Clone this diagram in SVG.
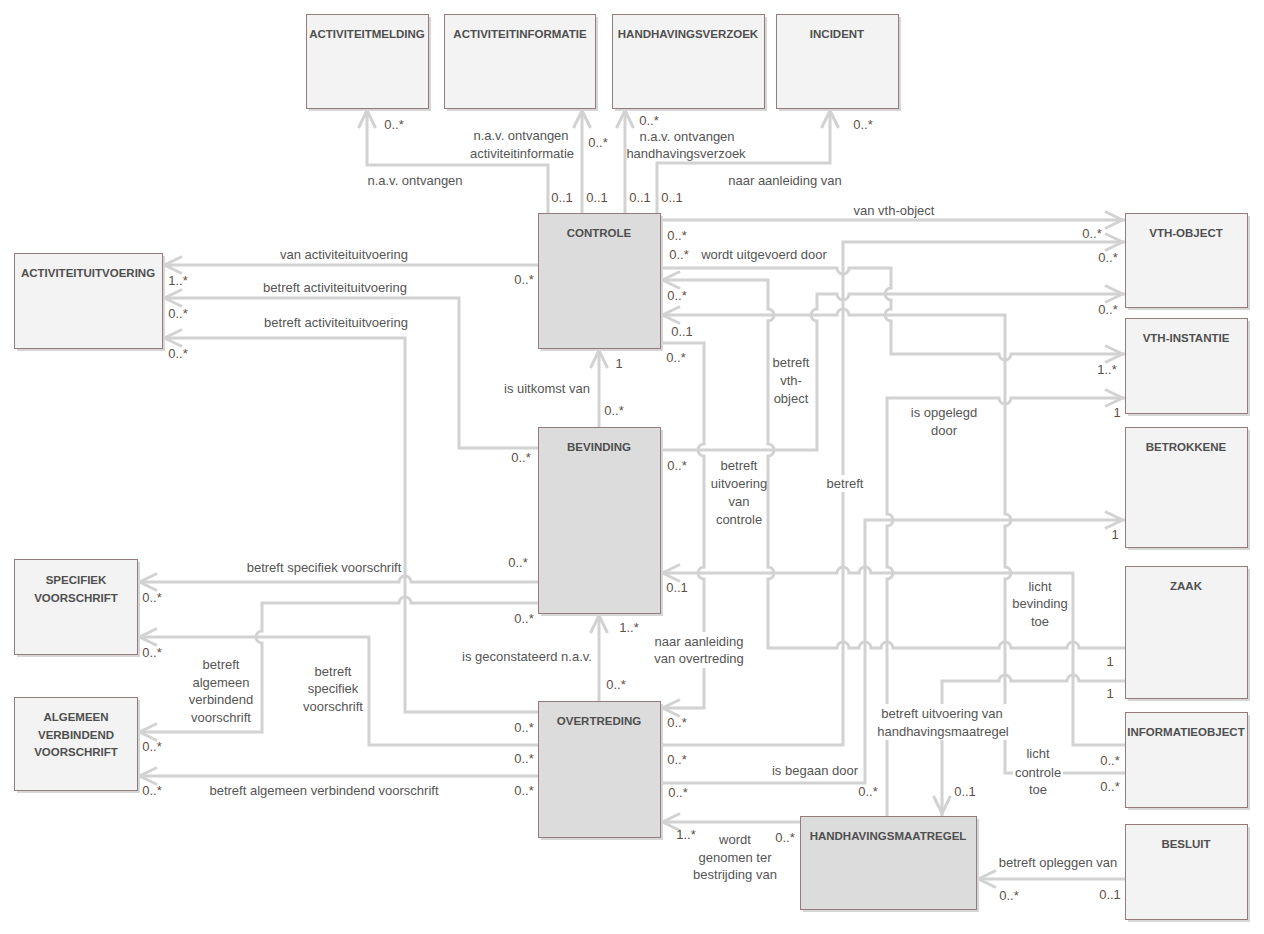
<svg xmlns="http://www.w3.org/2000/svg" width="1264" height="934" viewBox="0 0 1264 934">
<style>
.box{fill:#f3f3f3;stroke:#957b7b;stroke-width:1}
.main .box{fill:#dcdcdc}
.sh{fill:#d6d6d6}
.title{font-family:"Liberation Sans",Arial,sans-serif;font-weight:bold;font-size:11.5px;fill:#4f4f4f;text-anchor:middle}
.c{fill:none;stroke:#d2d2d2;stroke-width:3;stroke-linejoin:miter}
.a{marker-end:url(#arrow)}
.l{font-family:"Liberation Sans",Arial,sans-serif;font-size:13px;fill:#555555;text-anchor:middle}
.m{font-family:"Liberation Sans",Arial,sans-serif;font-size:13px;fill:#5e5046;text-anchor:middle}
.bg{fill:#ffffff}
</style>
<defs>
<marker id="arrow" markerUnits="userSpaceOnUse" markerWidth="26" markerHeight="26" viewBox="-24 -13 26 26" refX="0" refY="0" orient="auto">
<path d="M-20,-8.5 L-2.5,0 L-20,8.5" fill="none" stroke="#d2d2d2" stroke-width="3" stroke-linejoin="miter"/>
</marker>
</defs>
<rect width="1264" height="934" fill="#ffffff"/>
<g id="connectors">
<path class="c a" d="M548,213 V165 H367 V108"/>
<path class="c a" d="M582,213 V108"/>
<path class="c a" d="M625,213 V108"/>
<path class="c a" d="M657,213 V163 H830 V108"/>
<path class="c a" d="M660,220 H1125"/>
<path class="c a" d="M660,745 H843 V242 H1125"/>
<path class="c a" d="M660,268 H837 A6,6 0 0 0 849,268 H891 V288 A6,6 0 0 0 891,300 V309 A6,6 0 0 0 891,321 V354 H999 A6,6 0 0 0 1011,354 H1125"/>
<path class="c a" d="M1125,648 H1079 A6,6 0 0 0 1067,648 H1011 A6,6 0 0 0 999,648 H893 A6,6 0 0 0 881,648 H871 A6,6 0 0 0 859,648 H849 A6,6 0 0 0 837,648 H768 V579 A6,6 0 0 0 768,567 V456 A6,6 0 0 0 768,444 V321 A6,6 0 0 0 768,309 V280 H660"/>
<path class="c a" d="M660,450 H817 V321 A6,6 0 0 1 817,309 V294 H837 A6,6 0 0 0 849,294 H1125"/>
<path class="c a" d="M1125,773 H1005 V579 A6,6 0 0 0 1005,567 V526 A6,6 0 0 0 1005,514 V315 H849 A6,6 0 0 0 837,315 H660"/>
<path class="c a" d="M660,343 H704 V444 A6,6 0 0 0 704,456 V567 A6,6 0 0 0 704,579 V708 H660"/>
<path class="c a" d="M887,816 V579 A6,6 0 0 0 887,567 V526 A6,6 0 0 0 887,514 V398 H999 A6,6 0 0 0 1011,398 H1125"/>
<path class="c a" d="M660,783 H865 V520 H1125"/>
<path class="c a" d="M1125,745 H1073 V573 H871 A6,6 0 0 0 859,573 H849 A6,6 0 0 0 837,573 H660"/>
<path class="c a" d="M1125,681 H1079 A6,6 0 0 0 1067,681 H1011 A6,6 0 0 0 999,681 H942 V816"/>
<path class="c a" d="M800,822 H660"/>
<path class="c a" d="M1125,879 H976"/>
<path class="c a" d="M599,427 V348"/>
<path class="c a" d="M599,701 V613"/>
<path class="c a" d="M538,265 H162"/>
<path class="c a" d="M538,448 H459 V298 H162"/>
<path class="c a" d="M538,712 H405 V338 H162"/>
<path class="c a" d="M538,582 H411 A6,6 0 0 0 399,582 H137"/>
<path class="c a" d="M538,603 H411 A6,6 0 0 0 399,603 H262 V631 A6,6 0 0 0 262,643 V732 H137"/>
<path class="c a" d="M538,745 H369 V637 H137"/>
<path class="c a" d="M538,776 H137"/>
</g>
<g id="node-activiteitmelding"><rect class="sh" x="309" y="17" width="122" height="94"/><rect class="box" x="306.5" y="14.5" width="122" height="94"/><text class="title" x="367" y="38">ACTIVITEITMELDING</text></g>
<g id="node-activiteitinformatie"><rect class="sh" x="447" y="17" width="151" height="94"/><rect class="box" x="444.5" y="14.5" width="151" height="94"/><text class="title" x="520" y="38">ACTIVITEITINFORMATIE</text></g>
<g id="node-handhavingsverzoek"><rect class="sh" x="615" y="17" width="152" height="94"/><rect class="box" x="612.5" y="14.5" width="152" height="94"/><text class="title" x="688" y="38">HANDHAVINGSVERZOEK</text></g>
<g id="node-incident"><rect class="sh" x="779" y="17" width="122" height="94"/><rect class="box" x="776.5" y="14.5" width="122" height="94"/><text class="title" x="837" y="38">INCIDENT</text></g>
<g id="node-controle" class="main"><rect class="sh" x="541" y="216" width="122" height="135"/><rect class="box" x="538.5" y="213.5" width="122" height="135"/><text class="title" x="599" y="237">CONTROLE</text></g>
<g id="node-bevinding" class="main"><rect class="sh" x="541" y="430" width="122" height="186"/><rect class="box" x="538.5" y="427.5" width="122" height="186"/><text class="title" x="599" y="451">BEVINDING</text></g>
<g id="node-overtreding" class="main"><rect class="sh" x="541" y="704" width="122" height="136"/><rect class="box" x="538.5" y="701.5" width="122" height="136"/><text class="title" x="599" y="725">OVERTREDING</text></g>
<g id="node-handhavingsmaatregel" class="main"><rect class="sh" x="803" y="819" width="176" height="93"/><rect class="box" x="800.5" y="816.5" width="176" height="93"/><text class="title" x="888" y="840">HANDHAVINGSMAATREGEL</text></g>
<g id="node-besluit"><rect class="sh" x="1128" y="827" width="122" height="95"/><rect class="box" x="1125.5" y="824.5" width="122" height="95"/><text class="title" x="1186" y="848">BESLUIT</text></g>
<g id="node-informatieobject"><rect class="sh" x="1128" y="715" width="122" height="95"/><rect class="box" x="1125.5" y="712.5" width="122" height="95"/><text class="title" x="1186" y="736">INFORMATIEOBJECT</text></g>
<g id="node-zaak"><rect class="sh" x="1128" y="569" width="122" height="132"/><rect class="box" x="1125.5" y="566.5" width="122" height="132"/><text class="title" x="1186" y="590">ZAAK</text></g>
<g id="node-betrokkene"><rect class="sh" x="1128" y="430" width="122" height="120"/><rect class="box" x="1125.5" y="427.5" width="122" height="120"/><text class="title" x="1186" y="451">BETROKKENE</text></g>
<g id="node-vth-instantie"><rect class="sh" x="1128" y="321" width="122" height="95"/><rect class="box" x="1125.5" y="318.5" width="122" height="95"/><text class="title" x="1186" y="342">VTH-INSTANTIE</text></g>
<g id="node-vth-object"><rect class="sh" x="1128" y="216" width="122" height="94"/><rect class="box" x="1125.5" y="213.5" width="122" height="94"/><text class="title" x="1186" y="237">VTH-OBJECT</text></g>
<g id="node-activiteituitvoering"><rect class="sh" x="17" y="256" width="148" height="95"/><rect class="box" x="14.5" y="253.5" width="148" height="95"/><text class="title" x="88" y="277">ACTIVITEITUITVOERING</text></g>
<g id="node-specifiek-voorschrift"><rect class="sh" x="17" y="562" width="123" height="95"/><rect class="box" x="14.5" y="559.5" width="123" height="95"/><text class="title" x="76" y="583.5">SPECIFIEK</text><text class="title" x="76" y="601.5">VOORSCHRIFT</text></g>
<g id="node-algemeen-verbindend-voorschrift"><rect class="sh" x="17" y="700" width="123" height="93"/><rect class="box" x="14.5" y="697.5" width="123" height="93"/><text class="title" x="76" y="721">ALGEMEEN</text><text class="title" x="76" y="738.5">VERBINDEND</text><text class="title" x="76" y="756">VOORSCHRIFT</text></g>
<g id="connector-labels">
<text class="m" x="394" y="129">0..*</text>
<text class="l" x="415" y="185">n.a.v. ontvangen</text>
<text class="l" x="521" y="140">n.a.v. ontvangen</text>
<text class="l" x="522" y="158">activiteitinformatie</text>
<text class="m" x="598" y="147">0..*</text>
<text class="m" x="562" y="202">0..1</text>
<text class="m" x="597" y="202">0..1</text>
<text class="m" x="640" y="202">0..1</text>
<text class="m" x="672" y="202">0..1</text>
<text class="m" x="649" y="125">0..*</text>
<text class="l" x="687" y="141">n.a.v. ontvangen</text>
<text class="l" x="686" y="158">handhavingsverzoek</text>
<text class="l" x="785" y="185">naar aanleiding van</text>
<text class="m" x="863" y="129">0..*</text>
<text class="l" x="894" y="215">van vth-object</text>
<text class="m" x="677" y="240">0..*</text>
<text class="m" x="679" y="259">0..*</text>
<text class="l" x="764" y="259">wordt uitgevoerd door</text>
<text class="m" x="677" y="300">0..*</text>
<text class="m" x="682" y="336">0..1</text>
<text class="m" x="676" y="362">0..*</text>
<text class="m" x="1092" y="238">0..*</text>
<text class="m" x="1108" y="262">0..*</text>
<text class="m" x="1108" y="314">0..*</text>
<text class="m" x="1107" y="374">1..*</text>
<text class="m" x="1117" y="417">1</text>
<text class="m" x="1115" y="539">1</text>
<text class="l" x="791" y="367">betreft</text>
<text class="l" x="791" y="385">vth-</text>
<text class="l" x="791" y="403">object</text>
<text class="l" x="944" y="417">is opgelegd</text>
<text class="l" x="944" y="435">door</text>
<text class="l" x="739" y="470">betreft</text>
<text class="l" x="739" y="488">uitvoering</text>
<text class="l" x="739" y="506">van</text>
<text class="l" x="739" y="524">controle</text>
<rect class="bg" x="825" y="475" width="40" height="17"/>
<text class="l" x="845" y="488">betreft</text>
<text class="m" x="677" y="470">0..*</text>
<text class="m" x="677" y="592">0..1</text>
<text class="l" x="1040" y="591">licht</text>
<text class="l" x="1040" y="608">bevinding</text>
<text class="l" x="1040" y="626">toe</text>
<text class="m" x="1110" y="666">1</text>
<text class="m" x="1110" y="698">1</text>
<rect class="bg" x="655" y="632" width="90" height="36"/>
<text class="l" x="699" y="646">naar aanleiding</text>
<text class="l" x="699" y="663">van overtreding</text>
<rect class="bg" x="877" y="704" width="133" height="36"/>
<text class="l" x="942" y="718">betreft uitvoering van</text>
<text class="l" x="943" y="736">handhavingsmaatregel</text>
<text class="l" x="1038" y="758">licht</text>
<rect class="bg" x="1013" y="765" width="50" height="16"/>
<text class="l" x="1038" y="777">controle</text>
<text class="l" x="1038" y="794">toe</text>
<text class="m" x="1110" y="765">0..*</text>
<text class="m" x="1110" y="791">0..*</text>
<text class="l" x="815" y="775">is begaan door</text>
<text class="m" x="868" y="796">0..*</text>
<text class="m" x="965" y="796">0..1</text>
<text class="m" x="677" y="727">0..*</text>
<text class="m" x="677" y="764">0..*</text>
<text class="m" x="678" y="797">0..*</text>
<text class="m" x="686" y="839">1..*</text>
<text class="l" x="735" y="844">wordt</text>
<text class="l" x="735" y="862">genomen ter</text>
<text class="l" x="735" y="879">bestrijding van</text>
<text class="m" x="785" y="842">0..*</text>
<text class="l" x="1058" y="867">betreft opleggen van</text>
<text class="m" x="1009" y="900">0..*</text>
<text class="m" x="1110" y="899">0..1</text>
<text class="l" x="344" y="259">van activiteituitvoering</text>
<text class="m" x="178" y="285">1..*</text>
<text class="l" x="335" y="292">betreft activiteituitvoering</text>
<text class="m" x="178" y="318">0..*</text>
<text class="l" x="336" y="327">betreft activiteituitvoering</text>
<text class="m" x="178" y="358">0..*</text>
<text class="m" x="524" y="284">0..*</text>
<text class="l" x="547" y="393">is uitkomst van</text>
<text class="m" x="619" y="368">1</text>
<text class="m" x="614" y="415">0..*</text>
<text class="m" x="521" y="462">0..*</text>
<text class="m" x="518" y="567">0..*</text>
<text class="m" x="524" y="623">0..*</text>
<text class="l" x="324" y="572">betreft specifiek voorschrift</text>
<text class="m" x="152" y="602">0..*</text>
<text class="m" x="152" y="657">0..*</text>
<text class="l" x="221" y="669">betreft</text>
<text class="l" x="221" y="687">algemeen</text>
<text class="l" x="221" y="704">verbindend</text>
<text class="l" x="221" y="722">voorschrift</text>
<text class="l" x="333" y="676">betreft</text>
<text class="l" x="333" y="693">specifiek</text>
<text class="l" x="333" y="711">voorschrift</text>
<text class="l" x="527" y="661">is geconstateerd n.a.v.</text>
<text class="m" x="629" y="632">1..*</text>
<text class="m" x="616" y="689">0..*</text>
<text class="m" x="524" y="732">0..*</text>
<text class="m" x="152" y="751">0..*</text>
<text class="m" x="524" y="763">0..*</text>
<text class="m" x="524" y="795">0..*</text>
<text class="l" x="324" y="795">betreft algemeen verbindend voorschrift</text>
<text class="m" x="152" y="795">0..*</text>
</g>
</svg>
